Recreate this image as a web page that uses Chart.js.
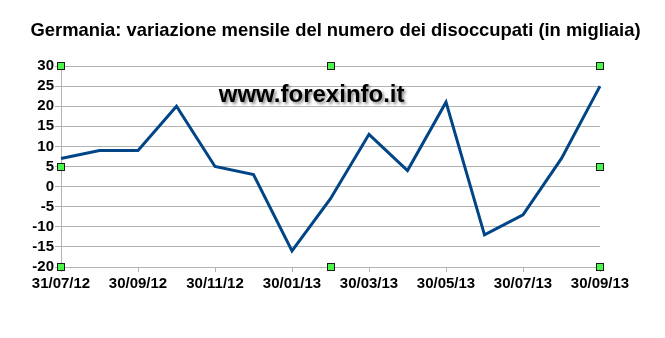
<!DOCTYPE html>
<html>
<head>
<meta charset="utf-8">
<script src="https://cdn.jsdelivr.net/npm/chart.js@4"></script>
<style>
  html, body { margin: 0; padding: 0; background: #ffffff; }
  #wrap { width: 665px; height: 338px; }
</style>
</head>
<body>
<div id="wrap"><canvas id="grafico"></canvas></div>
<script>
// dati mensili (migliaia)
const mesi = ['31/07/12', '31/08/12', '30/09/12', '31/10/12', '30/11/12', '31/12/12', '30/01/13', '28/02/13',
              '30/03/13', '30/04/13', '30/05/13', '30/06/13', '30/07/13', '31/08/13', '30/09/13'];
const variazione = [7, 9, 9, 20, 5, 3, -16, -3, 13, 4, 21, -12, -7, 7, 25];
const asseY = { min: -20, max: 30, passo: 5 };

const titolo = 'Germania: variazione mensile del numero dei disoccupati (in migliaia)';
const filigrana = 'www.forexinfo.it';
const FONT = '"Liberation Sans", Arial, sans-serif';

// titolo, filigrana e maniglie verdi
const decorazioni = {
    id: 'decorazioni',
    afterDraw(chart) {
        const { ctx, chartArea: a, width } = chart;
        const mx = (a.left + a.right) / 2;
        const my = (a.top + a.bottom) / 2;

        ctx.save();
        ctx.font = 'bold 18.4px ' + FONT;
        ctx.textAlign = 'center';
        ctx.textBaseline = 'middle';
        ctx.fillStyle = '#000000';
        ctx.fillText(titolo, width / 2 + 3, 31);
        ctx.restore();

        ctx.save();
        ctx.font = 'bold 24px ' + FONT;
        ctx.textAlign = 'center';
        ctx.textBaseline = 'middle';
        ctx.shadowColor = 'rgba(0,0,0,0.45)';
        ctx.shadowBlur = 3;
        ctx.shadowOffsetX = 2;
        ctx.shadowOffsetY = 2;
        ctx.fillStyle = '#000000';
        ctx.fillText(filigrana, a.left + (a.right - a.left) * 0.465, a.top + 29);
        ctx.restore();

        const punti = [
            [a.left, a.top], [mx, a.top], [a.right, a.top],
            [a.left, my], [a.right, my],
            [a.left, a.bottom], [mx, a.bottom], [a.right, a.bottom]
        ];
        ctx.save();
        ctx.fillStyle = '#4cf54c';
        ctx.strokeStyle = '#1a1a1a';
        ctx.lineWidth = 1;
        punti.forEach(([x, y]) => {
            const px = Math.round(x) - 4, py = Math.round(y) - 4;
            ctx.fillRect(px, py, 8, 8);
            ctx.strokeRect(px + 0.5, py + 0.5, 7, 7);
        });
        ctx.restore();
    }
};

new Chart(document.getElementById('grafico'), {
    type: 'line',
    data: {
        labels: mesi,
        datasets: [{
            data: variazione,
            borderColor: '#004586',
            borderWidth: 3,
            pointRadius: 0,
            tension: 0,
            fill: false
        }]
    },
    options: {
        responsive: true,
        maintainAspectRatio: false,
        animation: false,
        layout: { padding: { left: 0, right: 65, top: 66, bottom: 0 } },
        plugins: {
            legend: { display: false },
            tooltip: { enabled: false },
            title: { display: false }
        },
        scales: {
            x: {
                offset: false,
                afterFit: s => { s.height = 71; },
                grid: {
                    drawOnChartArea: true,
                    color: c => c.index === mesi.length - 1 ? '#cfcfcf' : 'rgba(0,0,0,0)',
                    lineWidth: c => c.index === mesi.length - 1 ? 2 : 1,
                    tickColor: '#b3b3b3',
                    tickLength: 5
                },
                border: { color: '#b3b3b3' },
                ticks: {
                    autoSkip: false,
                    maxRotation: 0,
                    color: '#000000',
                    padding: 3,
                    font: { family: FONT, size: 15, weight: 'bold' },
                    callback: (v, i) => (i % 2 === 0 ? mesi[i] : null)
                }
            },
            y: {
                min: asseY.min,
                max: asseY.max,
                afterFit: s => { s.width = 61; },
                grid: { color: '#b3b3b3', tickLength: 6, lineWidth: 1 },
                border: { color: '#b3b3b3', width: 1 },
                ticks: {
                    stepSize: asseY.passo,
                    autoSkip: false,
                    color: '#000000',
                    padding: 1,
                    font: { family: FONT, size: 15, weight: 'bold' }
                }
            }
        }
    },
    plugins: [decorazioni]
});
</script>
</body>
</html>
